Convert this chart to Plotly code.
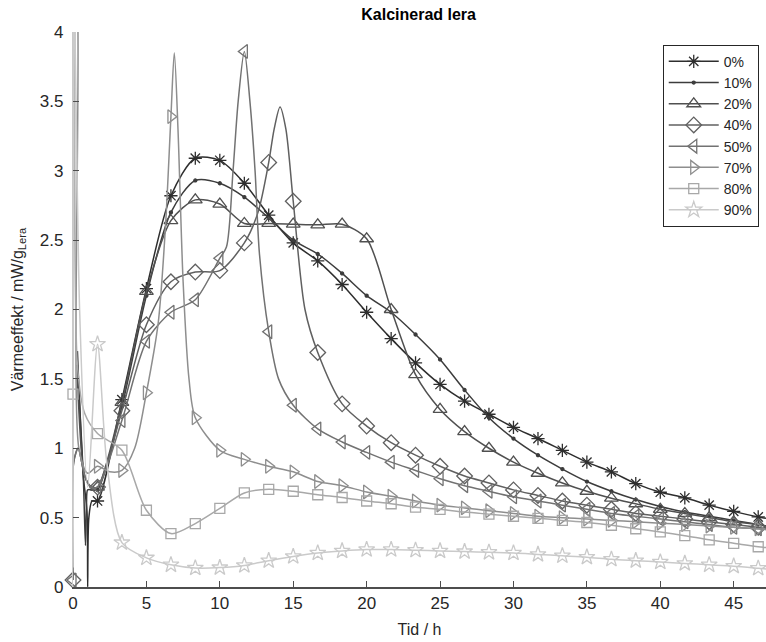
import plotly.graph_objects as go

# ---------------- data ----------------
series_names = ["0%", "10%", "20%", "40%", "50%", "70%", "80%", "90%"]

# marker times (h)
t_marks = [0, 1.67, 3.33, 5, 6.67, 8.33, 10, 11.67, 13.33, 15, 16.67, 18.33, 20,
           21.67, 23.33, 25, 26.67, 28.33, 30, 31.67, 33.33, 35, 36.67, 38.33,
           40, 41.67, 43.33, 45, 46.67]

y_0 = [None, 0.62, 1.35, 2.15, 2.82, 3.09, 3.075, 2.91, 2.68, 2.48, 2.35, 2.18, 1.98,
       1.79, 1.615, 1.46, 1.34, 1.245, 1.15, 1.07, 0.985, 0.9, 0.83, 0.745,
       0.683, 0.643, 0.59, 0.545, 0.505]
y_10 = [None, 0.70, 1.30, 2.10, 2.70, 2.93, 2.91, 2.81, 2.66, 2.50, 2.40, 2.26, 2.10,
        1.98, 1.82, 1.64, 1.42, 1.22, 1.07, 0.95, 0.85, 0.76, 0.69, 0.63,
        0.58, 0.54, 0.51, 0.48, 0.45]
y_20 = [None, 0.72, 1.33, 2.13, 2.64, 2.79, 2.76, 2.62, 2.62, 2.615, 2.61, 2.615, 2.51,
        2.0, 1.53, 1.28, 1.12, 1.0, 0.9, 0.82, 0.75, 0.69, 0.64, 0.6,
        0.56, 0.53, 0.5, 0.47, 0.45]
y_40 = [0.05, 0.72, 1.27, 1.89, 2.2, 2.27, 2.28, 2.48, 3.06, 2.78, 1.69, 1.32, 1.16,
        1.04, 0.95, 0.87, 0.8, 0.75, 0.7, 0.66, 0.62, 0.59, 0.56, 0.53,
        0.51, 0.49, 0.47, 0.45, 0.43]
y_50 = [0.05, 0.72, 1.2, 1.77, 1.98, 2.07, 2.37, 3.86, 1.84, 1.31, 1.14, 1.045, 0.97,
        0.9, 0.84, 0.78, 0.73, 0.69, 0.65, 0.62, 0.59, 0.56, 0.53, 0.51,
        0.49, 0.47, 0.45, 0.43, 0.42]
y_70 = [None, 0.87, 0.84, 1.40, 3.39, 1.22, 0.985, 0.92, 0.87, 0.83, 0.76, 0.73, 0.685,
        0.654, 0.62, 0.59, 0.57, 0.55, 0.53, 0.51, 0.5, 0.49, 0.48, 0.47,
        0.46, 0.45, 0.44, 0.43, 0.42]
y_80 = [1.39, 1.106, 0.986, 0.553, 0.385, 0.457, 0.566, 0.678, 0.704, 0.69, 0.665, 0.645, 0.62,
        0.6, 0.575, 0.56, 0.54, 0.525, 0.51, 0.495, 0.48, 0.465, 0.445, 0.42,
        0.397, 0.37, 0.34, 0.315, 0.29]
y_90 = [None, 1.75, 0.32, 0.21, 0.16, 0.137, 0.14, 0.155, 0.19, 0.22, 0.245, 0.26, 0.27,
        0.27, 0.265, 0.26, 0.255, 0.25, 0.245, 0.235, 0.225, 0.215, 0.2, 0.19,
        0.18, 0.17, 0.16, 0.15, 0.135]

# extra points on the curves between markers (start-up transient, peaks, end)
ex_t_0 = [0.3, 0.7, 0.95, 1.0, 1.08, 1.3, 47.2]
ex_y_0 = [1.7, 0.8, 0.55, 0.0, 0.5, 0.62, 0.495]
ex_t_10 = [0.3, 0.7, 0.85, 0.92, 1.0, 1.3, 47.2]
ex_y_10 = [1.6, 0.8, 0.3, 0.6, 0.7, 0.7, 0.44]
ex_t_20 = [0.3, 0.7, 1.0, 1.3, 47.2]
ex_y_20 = [1.5, 0.85, 0.75, 0.72, 0.44]
ex_t_40 = [0.05, 0.35, 0.8, 1.2, 12.6, 13.7, 14.1, 14.5, 15.8, 47.2]
ex_y_40 = [0.9, 1.0, 0.8, 0.72, 2.7, 3.3, 3.46, 3.3, 2.0, 0.425]
ex_t_50 = [0.05, 0.35, 0.8, 1.2, 10.45, 10.9, 11.25, 12.05, 12.4, 12.7, 14.0, 47.2]
ex_y_50 = [0.9, 1.0, 0.8, 0.72, 2.45, 3.0, 3.5, 3.5, 3.0, 2.4, 1.5, 0.415]
ex_t_70 = [0.0, 0.15, 0.4, 1.0, 2.5, 4.2, 5.8, 6.3, 6.9, 7.15, 7.5, 7.9, 47.2]
ex_y_70 = [4.4, 4.4, 1.0, 0.82, 0.83, 1.0, 1.9, 2.6, 3.85, 3.3, 2.2, 1.5, 0.415]
ex_t_80 = [0.12, 0.3, 0.8, 47.2]
ex_y_80 = [4.4, 1.6, 1.25, 0.285]
ex_t_90 = [0.0, 0.06, 0.45, 1.0, 2.3, 47.2]
ex_y_90 = [0.14, 4.4, 2.0, 0.72, 0.9, 0.13]

marker_vals = [y_0, y_10, y_20, y_40, y_50, y_70, y_80, y_90]
extra_t = [ex_t_0, ex_t_10, ex_t_20, ex_t_40, ex_t_50, ex_t_70, ex_t_80, ex_t_90]
extra_y = [ex_y_0, ex_y_10, ex_y_20, ex_y_40, ex_y_50, ex_y_70, ex_y_80, ex_y_90]

x_ticks = [0, 5, 10, 15, 20, 25, 30, 35, 40, 45]
y_ticks = [0, 0.5, 1, 1.5, 2, 2.5, 3, 3.5, 4]
y_ticktext = ["0", "0.5", "1", "1.5", "2", "2.5", "3", "3.5", "4"]

# ---------------- style ----------------
colors = ["#2e2e2e", "#3c3c3c", "#505050", "#606060", "#727272", "#8e8e8e", "#a8a8a8", "#cacaca"]
symbols = ["asterisk-open", "circle", "triangle-up-open", "diamond-open",
           "triangle-left-open", "triangle-right-open", "square-open", "star-open"]
msizes = [11, 3, 12, 12, 12, 12, 10, 12]
FONT = "Liberation Sans, Arial, Helvetica, sans-serif"
TXT = "#262626"

fig = go.Figure()
for name, yv, et, ey, col, sym, ms in zip(series_names, marker_vals, extra_t, extra_y,
                                          colors, symbols, msizes):
    pts = {}
    for t, y in zip(t_marks, yv):
        if y is not None:
            pts[t] = y
    for t, y in zip(et, ey):
        pts[t] = y
    lt = sorted(pts)
    ly = [pts[t] for t in lt]
    fig.add_trace(go.Scatter(x=lt, y=ly, mode="lines",
                             line=dict(color=col, width=1.5, shape="spline", smoothing=0.8),
                             showlegend=False, hoverinfo="skip"))
    mx = [t for t, y in zip(t_marks, yv) if y is not None]
    my = [y for y in yv if y is not None]
    fig.add_trace(go.Scatter(x=mx, y=my, mode="markers", cliponaxis=False,
                             marker=dict(symbol=sym, size=ms, color=col,
                                         line=dict(color=col, width=1.3)),
                             showlegend=False))
    fig.add_trace(go.Scatter(x=[None], y=[None], mode="lines+markers", name=name,
                             line=dict(color=col, width=1.5),
                             marker=dict(symbol=sym, size=ms, color=col,
                                         line=dict(color=col, width=1.3))))

fig.update_layout(
    width=766, height=642,
    margin=dict(l=73, r=0, t=32, b=55),
    paper_bgcolor="white", plot_bgcolor="white",
    font=dict(family=FONT, size=17, color=TXT),
    title=dict(text="<b>Kalcinerad lera</b>", x=0.5465, xanchor="center", y=0.977, yanchor="middle",
               font=dict(size=16, color="#000000")),
    xaxis=dict(range=[0, 47.2], tickvals=x_ticks,
               showgrid=False, zeroline=False, showline=True, linecolor="#4d4d4d", linewidth=1.5,
               ticks="inside", ticklen=6, tickcolor="#4d4d4d", tickwidth=1.2,
               tickfont=dict(size=17, color=TXT),
               title=dict(text="Tid / h", font=dict(size=16, color=TXT), standoff=12)),
    yaxis=dict(range=[0, 4], tickvals=y_ticks, ticktext=y_ticktext,
               showgrid=False, zeroline=False, showline=True, linecolor="#c8c8c8", linewidth=1.2,
               ticks="inside", ticklen=6, tickcolor="#4d4d4d", tickwidth=1.2,
               ticklabelstandoff=5,
               tickfont=dict(size=17, color=TXT),
               title=dict(text="Värmeeffekt / mW/g<sub>Lera</sub>", font=dict(size=16, color=TXT), standoff=12)),
    legend=dict(x=0.851, y=0.977, xanchor="left", yanchor="top",
                bgcolor="white", bordercolor="#262626", borderwidth=1,
                font=dict(size=14, color=TXT), itemwidth=50,
                tracegroupgap=0),
)

fig.write_html("out.html")
